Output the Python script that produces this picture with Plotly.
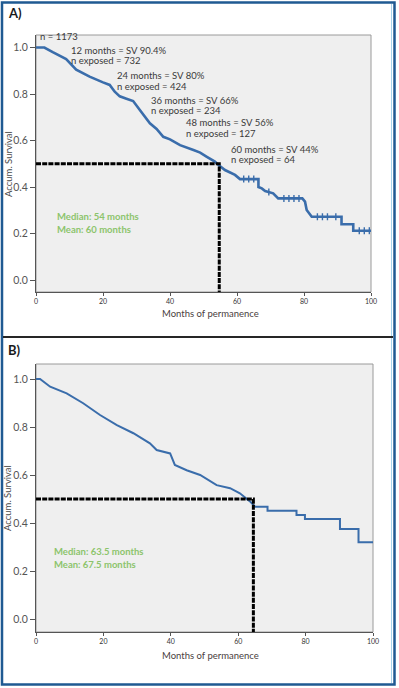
import numpy as np
import plotly.graph_objects as go

W, H = 399, 688

# ---------------- data ----------------
# Panel A: Kaplan-Meier curve (months, cumulative survival)
a_time = [0, 2.5, 5, 9, 12, 16, 20, 22, 23.5, 25, 27, 29, 31, 34, 36, 38, 40, 43, 47, 49, 51,
          53.4, 54.5, 56.4, 59.4, 60.9, 66.4, 66.4, 67.4, 68.4, 70.8, 72.3, 79.5, 80.3, 80.8,
          82.3, 91.2, 91.2, 94.7, 94.7, 100]
a_surv = [1.0, 1.0, 0.98, 0.95, 0.905, 0.875, 0.85, 0.839, 0.81, 0.79, 0.78, 0.77, 0.731, 0.674,
          0.65, 0.616, 0.605, 0.58, 0.559, 0.548, 0.53, 0.509, 0.495, 0.473, 0.452, 0.434, 0.434,
          0.40, 0.394, 0.383, 0.373, 0.351, 0.351, 0.337, 0.301, 0.272, 0.272, 0.24, 0.24, 0.212,
          0.212]
a_censor = [62, 63.5, 65, 69.5, 74, 75.5, 77, 78.5, 84, 85.5, 87, 89.5, 96.5, 98, 99.5]
a_median_line = 54.7
a_milestones = ["12 months = SV 90.4%", "24 months = SV 80%", "36 months = SV 66%",
                "48 months = SV 56%", "60 months = SV 44%"]
a_exposed = ["n exposed = 732", "n exposed = 424", "n exposed = 234",
             "n exposed = 127", "n exposed = 64"]
a_n_label = "n = 1173"
a_stats = ["Median: 54 months", "Mean: 60 months"]

# Panel B
b_time = [0, 1.2, 4.2, 9.1, 14, 19, 24, 28.9, 33.8, 35.8, 39.8, 41.2, 44.7, 48.7, 53.6, 57.6,
          60.5, 63.5, 65, 68.7, 68.7, 77.3, 77.3, 79.8, 79.8, 90.2, 90.2, 95.7, 95.7, 100]
b_surv = [1.0, 1.0, 0.968, 0.94, 0.899, 0.85, 0.808, 0.774, 0.732, 0.704, 0.69, 0.642, 0.62,
          0.60, 0.558, 0.545, 0.524, 0.49, 0.468, 0.468, 0.451, 0.451, 0.433, 0.433, 0.417,
          0.417, 0.375, 0.375, 0.32, 0.32]
b_median_line = 64.5
b_stats = ["Median: 63.5 months", "Mean: 67.5 months"]

x_ticks = [0, 20, 40, 60, 80, 100]
y_ticks = [0.0, 0.2, 0.4, 0.6, 0.8, 1.0]
x_title = "Months of permanence"
y_title = "Accum. Survival"
panel_labels = ["A)", "B)"]

# ---------------- helpers ----------------
def px(x):
    return x / W


def py(y):
    return 1 - y / H


CURVE = "#3a6dab"
GREEN = "#8cc46c"
TXT = "#3a3a3a"
FONT = "Lato"

fig = go.Figure()

# curves
fig.add_trace(go.Scatter(x=a_time, y=a_surv, mode="lines", xaxis="x", yaxis="y",
                         line=dict(color=CURVE, width=2.6), hoverinfo="skip"))
fig.add_trace(go.Scatter(x=a_censor, y=np.interp(a_censor, a_time, a_surv),
                         mode="markers", xaxis="x", yaxis="y",
                         marker=dict(symbol="line-ns-open", size=5, color=CURVE,
                                     line=dict(color=CURVE, width=1.4)), hoverinfo="skip"))
fig.add_trace(go.Scatter(x=b_time, y=b_surv, mode="lines", xaxis="x2", yaxis="y2",
                         line=dict(color=CURVE, width=2), hoverinfo="skip"))

# median dashed lines
dash = dict(color="black", width=3, dash="5px,1.2px")
for med, xa, ya, ylo in [(a_median_line, "x", "y", -0.06), (b_median_line, "x2", "y2", -0.06)]:
    fig.add_trace(go.Scatter(x=[0, med, med], y=[0.5, 0.5, ylo], mode="lines",
                             xaxis=xa, yaxis=ya, line=dash, hoverinfo="skip"))

# axes
common_x = dict(range=[0, 100], tickvals=x_ticks, ticks="outside", ticklen=3, tickwidth=1,
                tickcolor="#555", showgrid=False, zeroline=False, showline=True,
                linecolor="#555", linewidth=1, automargin=False,
                tickfont=dict(family=FONT, size=7, color="#333"))
common_y = dict(tickvals=y_ticks, tickformat=".1f", ticks="outside", ticklen=5, tickwidth=1,
                tickcolor="#555", showgrid=False, zeroline=False, showline=True,
                linecolor="#555", linewidth=1, automargin=False,
                tickfont=dict(family=FONT, size=10.5, color="#555"))

fig.update_layout(
    template="none",
    width=W, height=H, margin=dict(l=0, r=0, t=0, b=0, pad=0),
    paper_bgcolor="white", plot_bgcolor="#efefef", showlegend=False,
    xaxis=dict(domain=[px(36), px(371)], anchor="y", **common_x),
    yaxis=dict(domain=[py(292), py(35)], anchor="x", range=[-0.0516, 1.0538], **common_y),
    xaxis2=dict(domain=[px(36), px(373)], anchor="y2", **common_x),
    yaxis2=dict(domain=[py(632), py(364)], anchor="x2", range=[-0.054, 1.0625], **common_y),
)

shapes = []
# plot frames (top/right lighter)
for xr, yr in [("x domain", "y domain"), ("x2 domain", "y2 domain")]:
    shapes.append(dict(type="rect", xref=xr, yref=yr, x0=0, x1=1, y0=0, y1=1,
                       line=dict(color="#9a9a9a", width=1), layer="below"))
# outer blue frame
shapes.append(dict(type="rect", xref="paper", yref="paper", x0=px(2), x1=px(394.5),
                   y0=py(684.5), y1=py(2.5), line=dict(color="#1f5a92", width=2.5)))
shapes.append(dict(type="line", xref="paper", yref="paper", x0=px(391.5), x1=px(391.5),
                   y0=py(683), y1=py(4), line=dict(color="#a8d4ec", width=1)))
# separator between panels
shapes.append(dict(type="line", xref="paper", yref="paper", x0=px(3), x1=px(393),
                   y0=py(337), y1=py(337), line=dict(color="#262626", width=2)))
fig.update_layout(shapes=shapes)

ann = []


def text(x, y, s, size=10, color=TXT, bold=False, xanchor="left", angle=0):
    ann.append(dict(x=px(x), y=py(y), xref="paper", yref="paper", text=f"<b>{s}</b>" if bold else s,
                    showarrow=False, xanchor=xanchor, yanchor="middle", textangle=angle,
                    borderpad=0, font=dict(family=FONT, size=size, color=color)))


# panel labels
text(7, 13, panel_labels[0], size=13, color="#1a1a1a", bold=True)
text(7, 350, panel_labels[1], size=13, color="#1a1a1a", bold=True)

# axis titles
text(210, 313, x_title, size=9.5, color="#4a4040", xanchor="center")
text(210, 655, x_title, size=9.5, color="#4a4040", xanchor="center")
text(8, 164, y_title, size=9.5, color="#4a4a4a", xanchor="center", angle=-90)
text(8, 498, y_title, size=9.5, color="#4a4a4a", xanchor="center", angle=-90)

# panel A milestone annotations
text(39, 37, a_n_label, size=9.5)
pos = [(70, 50), (116, 76), (150, 100), (185, 123), (230, 150)]
for (x, y), m, e in zip(pos, a_milestones, a_exposed):
    text(x, y, m, size=9.5)
    text(x, y + 10, e, size=9.5)

# median/mean
text(56, 216, a_stats[0], size=9.5, color=GREEN, bold=True)
text(56, 229.5, a_stats[1], size=9.5, color=GREEN, bold=True)
text(53, 551, b_stats[0], size=9.5, color=GREEN, bold=True)
text(53, 564, b_stats[1], size=9.5, color=GREEN, bold=True)

fig.update_layout(annotations=ann)
fig.write_html(
    "out.html",
    config={"displayModeBar": False, "staticPlot": True},
    post_script="document.body.style.margin='0';document.body.style.overflow='hidden';",
)
